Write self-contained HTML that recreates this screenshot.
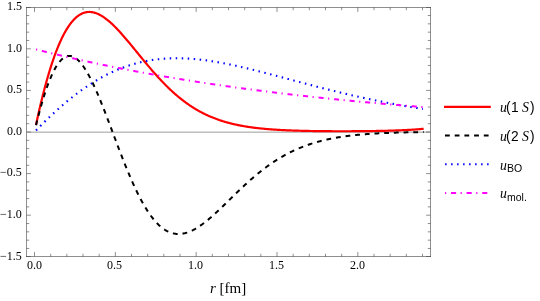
<!DOCTYPE html>
<html><head><meta charset="utf-8"><style>
html,body{margin:0;padding:0;background:#fff;}
#c{position:relative;width:540px;height:301px;overflow:hidden;background:#fff;}
#c svg{position:absolute;left:0;top:0;display:block;}
#c span{will-change:transform;position:absolute;white-space:nowrap;color:#000;display:block;}
</style></head><body>
<div id="c">
<svg width="540" height="301" viewBox="0 0 540 301">
<g stroke-linecap="square"><path d="M26.5,7.5 H430.5" stroke="#444" stroke-opacity="0.6" stroke-width="1" fill="none"/><path d="M26.5,256.5 H430.5" stroke="#444" stroke-opacity="0.6" stroke-width="1" fill="none"/><path d="M26.5,7.5 V256.5" stroke="#444" stroke-opacity="0.6" stroke-width="1" fill="none"/><path d="M430.5,7.5 V256.5" stroke="#444" stroke-opacity="0.6" stroke-width="1" fill="none"/></g>
<line x1="26.5" y1="132.15" x2="430.5" y2="132.15" stroke="#9c9c9c" stroke-width="1"/>
<path d="M34.50,256.5 v-4.4 M34.50,7.5 v4.4 M50.67,256.5 v-2.7 M50.67,7.5 v2.7 M66.83,256.5 v-2.7 M66.83,7.5 v2.7 M83.00,256.5 v-2.7 M83.00,7.5 v2.7 M99.17,256.5 v-2.7 M99.17,7.5 v2.7 M115.33,256.5 v-4.4 M115.33,7.5 v4.4 M131.50,256.5 v-2.7 M131.50,7.5 v2.7 M147.67,256.5 v-2.7 M147.67,7.5 v2.7 M163.84,256.5 v-2.7 M163.84,7.5 v2.7 M180.00,256.5 v-2.7 M180.00,7.5 v2.7 M196.17,256.5 v-4.4 M196.17,7.5 v4.4 M212.34,256.5 v-2.7 M212.34,7.5 v2.7 M228.50,256.5 v-2.7 M228.50,7.5 v2.7 M244.67,256.5 v-2.7 M244.67,7.5 v2.7 M260.84,256.5 v-2.7 M260.84,7.5 v2.7 M277.00,256.5 v-4.4 M277.00,7.5 v4.4 M293.17,256.5 v-2.7 M293.17,7.5 v2.7 M309.34,256.5 v-2.7 M309.34,7.5 v2.7 M325.51,256.5 v-2.7 M325.51,7.5 v2.7 M341.67,256.5 v-2.7 M341.67,7.5 v2.7 M357.84,256.5 v-4.4 M357.84,7.5 v4.4 M374.01,256.5 v-2.7 M374.01,7.5 v2.7 M390.17,256.5 v-2.7 M390.17,7.5 v2.7 M406.34,256.5 v-2.7 M406.34,7.5 v2.7 M422.51,256.5 v-2.7 M422.51,7.5 v2.7 M26.5,256.50 h4.4 M430.5,256.50 h-4.4 M26.5,248.48 h2.7 M430.5,248.48 h-2.7 M26.5,240.16 h2.7 M430.5,240.16 h-2.7 M26.5,231.84 h2.7 M430.5,231.84 h-2.7 M26.5,223.52 h2.7 M430.5,223.52 h-2.7 M26.5,215.20 h4.4 M430.5,215.20 h-4.4 M26.5,206.88 h2.7 M430.5,206.88 h-2.7 M26.5,198.56 h2.7 M430.5,198.56 h-2.7 M26.5,190.24 h2.7 M430.5,190.24 h-2.7 M26.5,181.92 h2.7 M430.5,181.92 h-2.7 M26.5,173.60 h4.4 M430.5,173.60 h-4.4 M26.5,165.28 h2.7 M430.5,165.28 h-2.7 M26.5,156.96 h2.7 M430.5,156.96 h-2.7 M26.5,148.64 h2.7 M430.5,148.64 h-2.7 M26.5,140.32 h2.7 M430.5,140.32 h-2.7 M26.5,132.00 h4.4 M430.5,132.00 h-4.4 M26.5,123.68 h2.7 M430.5,123.68 h-2.7 M26.5,115.36 h2.7 M430.5,115.36 h-2.7 M26.5,107.04 h2.7 M430.5,107.04 h-2.7 M26.5,98.72 h2.7 M430.5,98.72 h-2.7 M26.5,90.40 h4.4 M430.5,90.40 h-4.4 M26.5,82.08 h2.7 M430.5,82.08 h-2.7 M26.5,73.76 h2.7 M430.5,73.76 h-2.7 M26.5,65.44 h2.7 M430.5,65.44 h-2.7 M26.5,57.12 h2.7 M430.5,57.12 h-2.7 M26.5,48.80 h4.4 M430.5,48.80 h-4.4 M26.5,40.48 h2.7 M430.5,40.48 h-2.7 M26.5,32.16 h2.7 M430.5,32.16 h-2.7 M26.5,23.84 h2.7 M430.5,23.84 h-2.7 M26.5,15.52 h2.7 M430.5,15.52 h-2.7 M26.5,7.50 h4.4 M430.5,7.50 h-4.4" stroke="#444" stroke-opacity="0.6" stroke-width="1" fill="none"/>
<path d="M36.04,124.69 L36.68,121.68 L37.33,118.72 L37.98,115.80 L38.62,112.93 L39.27,110.10 L39.92,107.31 L40.56,104.57 L41.21,101.87 L41.86,99.22 L42.51,96.61 L43.15,94.04 L43.80,91.52 L44.45,89.04 L45.09,86.60 L45.74,84.21 L46.39,81.86 L47.04,79.56 L47.68,77.30 L48.33,75.08 L48.98,72.90 L49.62,70.77 L50.27,68.67 L50.92,66.63 L51.56,64.62 L52.21,62.65 L52.86,60.73 L53.51,58.85 L54.15,57.01 L54.80,55.21 L55.45,53.46 L56.09,51.74 L56.74,50.06 L57.39,48.43 L58.04,46.83 L58.68,45.28 L59.33,43.76 L59.98,42.29 L60.62,40.85 L61.27,39.45 L61.92,38.10 L62.57,36.78 L63.21,35.49 L63.86,34.25 L64.51,33.04 L65.15,31.87 L65.80,30.74 L66.45,29.65 L67.09,28.59 L67.74,27.57 L68.39,26.58 L69.04,25.63 L69.68,24.71 L70.33,23.83 L70.98,22.99 L71.62,22.18 L72.27,21.40 L72.92,20.66 L73.57,19.94 L74.21,19.27 L74.86,18.62 L75.51,18.01 L76.15,17.43 L76.80,16.88 L77.45,16.36 L78.10,15.87 L78.74,15.42 L79.39,14.99 L80.04,14.59 L80.68,14.23 L81.33,13.89 L81.98,13.58 L82.62,13.30 L83.27,13.04 L83.92,12.82 L84.57,12.62 L85.21,12.45 L85.86,12.30 L86.51,12.18 L87.15,12.09 L87.80,12.02 L88.45,11.98 L89.10,11.96 L89.74,11.96 L90.39,11.99 L91.04,12.04 L91.68,12.12 L92.33,12.21 L92.98,12.33 L93.62,12.47 L94.27,12.64 L94.92,12.82 L95.57,13.02 L96.21,13.25 L96.86,13.49 L97.51,13.75 L98.15,14.04 L98.80,14.34 L99.45,14.66 L100.10,14.99 L100.74,15.35 L101.39,15.72 L102.04,16.11 L102.68,16.51 L103.33,16.93 L103.98,17.37 L104.63,17.82 L105.27,18.28 L105.92,18.77 L106.57,19.26 L107.21,19.77 L107.86,20.29 L108.51,20.83 L109.15,21.37 L109.80,21.93 L110.45,22.50 L111.10,23.09 L111.74,23.68 L112.39,24.29 L113.04,24.90 L113.68,25.53 L114.33,26.17 L114.98,26.81 L115.63,27.47 L116.27,28.13 L116.92,28.80 L117.57,29.48 L118.21,30.17 L118.86,30.87 L119.51,31.57 L120.15,32.28 L120.80,33.00 L121.45,33.72 L122.10,34.45 L122.74,35.19 L123.39,35.93 L124.04,36.67 L124.68,37.42 L125.33,38.18 L125.98,38.94 L126.63,39.70 L127.27,40.47 L127.92,41.24 L128.57,42.01 L129.21,42.79 L129.86,43.57 L130.51,44.35 L131.16,45.14 L131.80,45.92 L132.45,46.71 L133.10,47.50 L133.74,48.29 L134.39,49.09 L135.04,49.88 L135.68,50.67 L136.33,51.47 L136.98,52.26 L137.63,53.06 L138.27,53.85 L138.92,54.64 L139.57,55.44 L140.21,56.23 L140.86,57.02 L141.51,57.81 L142.16,58.60 L142.80,59.39 L143.45,60.17 L144.10,60.96 L144.74,61.74 L145.39,62.52 L146.04,63.29 L146.68,64.07 L147.33,64.84 L147.98,65.61 L148.63,66.38 L149.27,67.14 L149.92,67.90 L150.57,68.66 L151.21,69.41 L151.86,70.16 L152.51,70.91 L153.16,71.65 L153.80,72.39 L154.45,73.12 L155.10,73.85 L155.74,74.58 L156.39,75.30 L157.04,76.02 L157.69,76.73 L158.33,77.44 L158.98,78.15 L159.63,78.84 L160.27,79.54 L160.92,80.23 L161.57,80.91 L162.21,81.59 L162.86,82.27 L163.51,82.94 L164.16,83.60 L164.80,84.26 L165.45,84.91 L166.10,85.56 L166.74,86.20 L167.39,86.84 L168.04,87.47 L168.69,88.10 L169.33,88.72 L169.98,89.33 L170.63,89.94 L171.27,90.55 L171.92,91.14 L172.57,91.74 L173.21,92.32 L173.86,92.90 L174.51,93.48 L175.16,94.05 L175.80,94.61 L176.45,95.17 L177.10,95.72 L177.74,96.27 L178.39,96.81 L179.04,97.34 L179.69,97.87 L180.33,98.39 L180.98,98.91 L181.63,99.42 L182.27,99.92 L182.92,100.42 L183.57,100.92 L184.22,101.41 L184.86,101.89 L185.51,102.36 L186.16,102.84 L186.80,103.30 L187.45,103.76 L188.10,104.21 L188.74,104.66 L189.39,105.10 L190.04,105.54 L190.69,105.97 L191.33,106.40 L191.98,106.82 L192.63,107.23 L193.27,107.64 L193.92,108.05 L194.57,108.44 L195.22,108.84 L195.86,109.23 L196.51,109.61 L197.16,109.99 L197.80,110.36 L198.45,110.73 L199.10,111.09 L199.75,111.44 L200.39,111.80 L201.04,112.14 L201.69,112.48 L202.33,112.82 L202.98,113.15 L203.63,113.48 L204.27,113.80 L204.92,114.12 L205.57,114.43 L206.22,114.74 L206.86,115.04 L207.51,115.34 L208.16,115.64 L208.80,115.93 L209.45,116.21 L210.10,116.49 L210.75,116.77 L211.39,117.04 L212.04,117.31 L212.69,117.57 L213.33,117.83 L213.98,118.09 L214.63,118.34 L215.27,118.59 L215.92,118.83 L216.57,119.07 L217.22,119.31 L217.86,119.54 L218.51,119.77 L219.16,119.99 L219.80,120.21 L220.45,120.43 L221.10,120.64 L221.75,120.85 L222.39,121.06 L223.04,121.26 L223.69,121.46 L224.33,121.65 L224.98,121.85 L225.63,122.03 L226.28,122.22 L226.92,122.40 L227.57,122.58 L228.22,122.76 L228.86,122.93 L229.51,123.10 L230.16,123.27 L230.80,123.43 L231.45,123.59 L232.10,123.75 L232.75,123.91 L233.39,124.06 L234.04,124.21 L234.69,124.36 L235.33,124.50 L235.98,124.64 L236.63,124.78 L237.28,124.92 L237.92,125.06 L238.57,125.19 L239.22,125.32 L239.86,125.44 L240.51,125.57 L241.16,125.69 L241.80,125.81 L242.45,125.93 L243.10,126.04 L243.75,126.16 L244.39,126.27 L245.04,126.38 L245.69,126.49 L246.33,126.59 L246.98,126.69 L247.63,126.79 L248.28,126.89 L248.92,126.99 L249.57,127.09 L250.22,127.18 L250.86,127.27 L251.51,127.36 L252.16,127.45 L252.81,127.54 L253.45,127.62 L254.10,127.70 L254.75,127.79 L255.39,127.87 L256.04,127.94 L256.69,128.02 L257.33,128.10 L257.98,128.17 L258.63,128.24 L259.28,128.31 L259.92,128.38 L260.57,128.45 L261.22,128.52 L261.86,128.58 L262.51,128.65 L263.16,128.71 L263.81,128.77 L264.45,128.83 L265.10,128.89 L265.75,128.95 L266.39,129.00 L267.04,129.06 L267.69,129.11 L268.33,129.17 L268.98,129.22 L269.63,129.27 L270.28,129.32 L270.92,129.37 L271.57,129.42 L272.22,129.46 L272.86,129.51 L273.51,129.55 L274.16,129.60 L274.81,129.64 L275.45,129.68 L276.10,129.72 L276.75,129.76 L277.39,129.80 L278.04,129.84 L278.69,129.88 L279.34,129.92 L279.98,129.95 L280.63,129.99 L281.28,130.02 L281.92,130.06 L282.57,130.09 L283.22,130.12 L283.86,130.16 L284.51,130.19 L285.16,130.22 L285.81,130.25 L286.45,130.28 L287.10,130.30 L287.75,130.33 L288.39,130.36 L289.04,130.39 L289.69,130.41 L290.34,130.44 L290.98,130.46 L291.63,130.49 L292.28,130.51 L292.92,130.53 L293.57,130.56 L294.22,130.58 L294.86,130.60 L295.51,130.62 L296.16,130.64 L296.81,130.66 L297.45,130.68 L298.10,130.70 L298.75,130.72 L299.39,130.74 L300.04,130.76 L300.69,130.77 L301.34,130.79 L301.98,130.81 L302.63,130.82 L303.28,130.84 L303.92,130.85 L304.57,130.87 L305.22,130.88 L305.87,130.90 L306.51,130.91 L307.16,130.93 L307.81,130.94 L308.45,130.95 L309.10,130.96 L309.75,130.98 L310.39,130.99 L311.04,131.00 L311.69,131.01 L312.34,131.02 L312.98,131.03 L313.63,131.04 L314.28,131.05 L314.92,131.06 L315.57,131.07 L316.22,131.08 L316.87,131.09 L317.51,131.10 L318.16,131.11 L318.81,131.11 L319.45,131.12 L320.10,131.13 L320.75,131.14 L321.40,131.14 L322.04,131.15 L322.69,131.16 L323.34,131.16 L323.98,131.17 L324.63,131.17 L325.28,131.18 L325.92,131.19 L326.57,131.19 L327.22,131.19 L327.87,131.20 L328.51,131.20 L329.16,131.21 L329.81,131.21 L330.45,131.22 L331.10,131.22 L331.75,131.22 L332.40,131.23 L333.04,131.23 L333.69,131.23 L334.34,131.23 L334.98,131.24 L335.63,131.24 L336.28,131.24 L336.92,131.24 L337.57,131.24 L338.22,131.24 L338.87,131.24 L339.51,131.25 L340.16,131.25 L340.81,131.25 L341.45,131.25 L342.10,131.25 L342.75,131.25 L343.40,131.25 L344.04,131.25 L344.69,131.24 L345.34,131.24 L345.98,131.24 L346.63,131.24 L347.28,131.24 L347.93,131.24 L348.57,131.24 L349.22,131.23 L349.87,131.23 L350.51,131.23 L351.16,131.23 L351.81,131.22 L352.45,131.22 L353.10,131.22 L353.75,131.21 L354.40,131.21 L355.04,131.21 L355.69,131.20 L356.34,131.20 L356.98,131.20 L357.63,131.19 L358.28,131.19 L358.93,131.18 L359.57,131.18 L360.22,131.17 L360.87,131.16 L361.51,131.16 L362.16,131.15 L362.81,131.15 L363.45,131.14 L364.10,131.13 L364.75,131.13 L365.40,131.12 L366.04,131.11 L366.69,131.11 L367.34,131.10 L367.98,131.09 L368.63,131.08 L369.28,131.07 L369.93,131.06 L370.57,131.06 L371.22,131.05 L371.87,131.04 L372.51,131.03 L373.16,131.02 L373.81,131.01 L374.46,131.00 L375.10,130.99 L375.75,130.98 L376.40,130.96 L377.04,130.95 L377.69,130.94 L378.34,130.93 L378.98,130.92 L379.63,130.90 L380.28,130.89 L380.93,130.88 L381.57,130.86 L382.22,130.85 L382.87,130.84 L383.51,130.82 L384.16,130.81 L384.81,130.79 L385.46,130.78 L386.10,130.76 L386.75,130.74 L387.40,130.73 L388.04,130.71 L388.69,130.69 L389.34,130.67 L389.98,130.66 L390.63,130.64 L391.28,130.62 L391.93,130.60 L392.57,130.58 L393.22,130.56 L393.87,130.54 L394.51,130.52 L395.16,130.49 L395.81,130.47 L396.46,130.45 L397.10,130.42 L397.75,130.40 L398.40,130.38 L399.04,130.35 L399.69,130.33 L400.34,130.30 L400.99,130.27 L401.63,130.24 L402.28,130.22 L402.93,130.19 L403.57,130.16 L404.22,130.13 L404.87,130.10 L405.51,130.07 L406.16,130.03 L406.81,130.00 L407.46,129.97 L408.10,129.93 L408.75,129.90 L409.40,129.86 L410.04,129.82 L410.69,129.78 L411.34,129.74 L411.99,129.70 L412.63,129.66 L413.28,129.62 L413.93,129.57 L414.57,129.53 L415.22,129.48 L415.87,129.44 L416.51,129.39 L417.16,129.34 L417.81,129.29 L418.46,129.23 L419.10,129.18 L419.75,129.12 L420.40,129.07 L421.04,129.01 L421.69,128.95 L422.34,128.88 L422.99,128.82 L423.63,128.75" fill="none" stroke="#f00" stroke-width="2.2"/>
<path d="M36.04,125.18 L36.68,122.56 L37.33,119.97 L37.98,117.44 L38.62,114.95 L39.27,112.50 L39.92,110.11 L40.56,107.76 L41.21,105.46 L41.86,103.20 L42.51,101.00 L43.15,98.85 L43.80,96.75 L44.45,94.69 L45.09,92.69 L45.74,90.74 L46.39,88.84 L47.04,87.00 L47.68,85.20 L48.33,83.46 L48.98,81.77 L49.62,80.14 L50.27,78.55 L50.92,77.02 L51.56,75.55 L52.21,74.13 L52.86,72.76 L53.51,71.45 L54.15,70.19 L54.80,68.98 L55.45,67.83 L56.09,66.73 L56.74,65.69 L57.39,64.70 L58.04,63.77 L58.68,62.89 L59.33,62.06 L59.98,61.28 L60.62,60.56 L61.27,59.90 L61.92,59.28 L62.57,58.72 L63.21,58.21 L63.86,57.76 L64.51,57.35 L65.15,57.00 L65.80,56.70 L66.45,56.45 L67.09,56.25 L67.74,56.10 L68.39,56.00 L69.04,55.95 L69.68,55.95 L70.33,55.99 L70.98,56.09 L71.62,56.23 L72.27,56.42 L72.92,56.66 L73.57,56.94 L74.21,57.27 L74.86,57.64 L75.51,58.06 L76.15,58.52 L76.80,59.02 L77.45,59.57 L78.10,60.15 L78.74,60.78 L79.39,61.45 L80.04,62.16 L80.68,62.91 L81.33,63.70 L81.98,64.52 L82.62,65.38 L83.27,66.28 L83.92,67.21 L84.57,68.18 L85.21,69.19 L85.86,70.22 L86.51,71.29 L87.15,72.39 L87.80,73.52 L88.45,74.68 L89.10,75.87 L89.74,77.09 L90.39,78.34 L91.04,79.62 L91.68,80.92 L92.33,82.24 L92.98,83.59 L93.62,84.97 L94.27,86.37 L94.92,87.79 L95.57,89.23 L96.21,90.69 L96.86,92.17 L97.51,93.67 L98.15,95.19 L98.80,96.73 L99.45,98.28 L100.10,99.85 L100.74,101.44 L101.39,103.03 L102.04,104.65 L102.68,106.27 L103.33,107.91 L103.98,109.55 L104.63,111.21 L105.27,112.88 L105.92,114.55 L106.57,116.24 L107.21,117.93 L107.86,119.62 L108.51,121.32 L109.15,123.03 L109.80,124.74 L110.45,126.46 L111.10,128.17 L111.74,129.89 L112.39,131.61 L113.04,133.34 L113.68,135.06 L114.33,136.78 L114.98,138.50 L115.63,140.21 L116.27,141.93 L116.92,143.64 L117.57,145.34 L118.21,147.04 L118.86,148.74 L119.51,150.43 L120.15,152.11 L120.80,153.79 L121.45,155.46 L122.10,157.12 L122.74,158.77 L123.39,160.41 L124.04,162.04 L124.68,163.67 L125.33,165.28 L125.98,166.87 L126.63,168.46 L127.27,170.04 L127.92,171.60 L128.57,173.15 L129.21,174.68 L129.86,176.20 L130.51,177.71 L131.16,179.20 L131.80,180.67 L132.45,182.13 L133.10,183.58 L133.74,185.00 L134.39,186.41 L135.04,187.81 L135.68,189.18 L136.33,190.54 L136.98,191.88 L137.63,193.20 L138.27,194.50 L138.92,195.78 L139.57,197.05 L140.21,198.29 L140.86,199.51 L141.51,200.72 L142.16,201.90 L142.80,203.06 L143.45,204.21 L144.10,205.33 L144.74,206.43 L145.39,207.51 L146.04,208.57 L146.68,209.60 L147.33,210.62 L147.98,211.61 L148.63,212.59 L149.27,213.54 L149.92,214.47 L150.57,215.37 L151.21,216.26 L151.86,217.12 L152.51,217.96 L153.16,218.78 L153.80,219.57 L154.45,220.35 L155.10,221.10 L155.74,221.83 L156.39,222.54 L157.04,223.22 L157.69,223.89 L158.33,224.53 L158.98,225.15 L159.63,225.74 L160.27,226.32 L160.92,226.87 L161.57,227.40 L162.21,227.91 L162.86,228.40 L163.51,228.87 L164.16,229.31 L164.80,229.74 L165.45,230.14 L166.10,230.52 L166.74,230.88 L167.39,231.22 L168.04,231.54 L168.69,231.84 L169.33,232.12 L169.98,232.38 L170.63,232.62 L171.27,232.83 L171.92,233.03 L172.57,233.21 L173.21,233.37 L173.86,233.51 L174.51,233.64 L175.16,233.74 L175.80,233.83 L176.45,233.89 L177.10,233.94 L177.74,233.97 L178.39,233.99 L179.04,233.98 L179.69,233.96 L180.33,233.92 L180.98,233.87 L181.63,233.80 L182.27,233.71 L182.92,233.60 L183.57,233.48 L184.22,233.35 L184.86,233.20 L185.51,233.03 L186.16,232.85 L186.80,232.66 L187.45,232.45 L188.10,232.22 L188.74,231.99 L189.39,231.74 L190.04,231.47 L190.69,231.19 L191.33,230.90 L191.98,230.60 L192.63,230.29 L193.27,229.96 L193.92,229.62 L194.57,229.27 L195.22,228.91 L195.86,228.53 L196.51,228.15 L197.16,227.75 L197.80,227.35 L198.45,226.93 L199.10,226.51 L199.75,226.08 L200.39,225.63 L201.04,225.18 L201.69,224.72 L202.33,224.25 L202.98,223.77 L203.63,223.28 L204.27,222.79 L204.92,222.29 L205.57,221.78 L206.22,221.26 L206.86,220.74 L207.51,220.21 L208.16,219.67 L208.80,219.13 L209.45,218.58 L210.10,218.03 L210.75,217.47 L211.39,216.90 L212.04,216.33 L212.69,215.76 L213.33,215.18 L213.98,214.59 L214.63,214.00 L215.27,213.41 L215.92,212.82 L216.57,212.22 L217.22,211.61 L217.86,211.01 L218.51,210.40 L219.16,209.78 L219.80,209.17 L220.45,208.55 L221.10,207.93 L221.75,207.31 L222.39,206.69 L223.04,206.06 L223.69,205.43 L224.33,204.81 L224.98,204.18 L225.63,203.55 L226.28,202.91 L226.92,202.28 L227.57,201.65 L228.22,201.02 L228.86,200.38 L229.51,199.75 L230.16,199.11 L230.80,198.48 L231.45,197.85 L232.10,197.22 L232.75,196.58 L233.39,195.95 L234.04,195.32 L234.69,194.69 L235.33,194.06 L235.98,193.44 L236.63,192.81 L237.28,192.19 L237.92,191.56 L238.57,190.94 L239.22,190.32 L239.86,189.71 L240.51,189.09 L241.16,188.48 L241.80,187.87 L242.45,187.26 L243.10,186.65 L243.75,186.05 L244.39,185.45 L245.04,184.85 L245.69,184.25 L246.33,183.66 L246.98,183.07 L247.63,182.48 L248.28,181.90 L248.92,181.31 L249.57,180.74 L250.22,180.16 L250.86,179.59 L251.51,179.02 L252.16,178.46 L252.81,177.90 L253.45,177.34 L254.10,176.78 L254.75,176.23 L255.39,175.69 L256.04,175.14 L256.69,174.60 L257.33,174.07 L257.98,173.54 L258.63,173.01 L259.28,172.48 L259.92,171.96 L260.57,171.45 L261.22,170.94 L261.86,170.43 L262.51,169.92 L263.16,169.42 L263.81,168.93 L264.45,168.44 L265.10,167.95 L265.75,167.47 L266.39,166.99 L267.04,166.51 L267.69,166.04 L268.33,165.57 L268.98,165.11 L269.63,164.65 L270.28,164.20 L270.92,163.75 L271.57,163.31 L272.22,162.87 L272.86,162.43 L273.51,162.00 L274.16,161.57 L274.81,161.15 L275.45,160.73 L276.10,160.31 L276.75,159.90 L277.39,159.49 L278.04,159.09 L278.69,158.69 L279.34,158.30 L279.98,157.91 L280.63,157.52 L281.28,157.14 L281.92,156.77 L282.57,156.39 L283.22,156.03 L283.86,155.66 L284.51,155.30 L285.16,154.94 L285.81,154.59 L286.45,154.24 L287.10,153.90 L287.75,153.56 L288.39,153.23 L289.04,152.89 L289.69,152.57 L290.34,152.24 L290.98,151.92 L291.63,151.61 L292.28,151.29 L292.92,150.99 L293.57,150.68 L294.22,150.38 L294.86,150.09 L295.51,149.79 L296.16,149.50 L296.81,149.22 L297.45,148.94 L298.10,148.66 L298.75,148.38 L299.39,148.11 L300.04,147.85 L300.69,147.58 L301.34,147.32 L301.98,147.07 L302.63,146.81 L303.28,146.56 L303.92,146.32 L304.57,146.07 L305.22,145.83 L305.87,145.60 L306.51,145.37 L307.16,145.14 L307.81,144.91 L308.45,144.69 L309.10,144.47 L309.75,144.25 L310.39,144.04 L311.04,143.83 L311.69,143.62 L312.34,143.41 L312.98,143.21 L313.63,143.01 L314.28,142.82 L314.92,142.63 L315.57,142.44 L316.22,142.25 L316.87,142.06 L317.51,141.88 L318.16,141.70 L318.81,141.53 L319.45,141.35 L320.10,141.18 L320.75,141.02 L321.40,140.85 L322.04,140.69 L322.69,140.53 L323.34,140.37 L323.98,140.21 L324.63,140.06 L325.28,139.91 L325.92,139.76 L326.57,139.62 L327.22,139.47 L327.87,139.33 L328.51,139.19 L329.16,139.06 L329.81,138.92 L330.45,138.79 L331.10,138.66 L331.75,138.53 L332.40,138.41 L333.04,138.28 L333.69,138.16 L334.34,138.04 L334.98,137.92 L335.63,137.81 L336.28,137.69 L336.92,137.58 L337.57,137.47 L338.22,137.36 L338.87,137.26 L339.51,137.15 L340.16,137.05 L340.81,136.95 L341.45,136.85 L342.10,136.75 L342.75,136.65 L343.40,136.56 L344.04,136.47 L344.69,136.38 L345.34,136.29 L345.98,136.20 L346.63,136.11 L347.28,136.03 L347.93,135.94 L348.57,135.86 L349.22,135.78 L349.87,135.70 L350.51,135.63 L351.16,135.55 L351.81,135.47 L352.45,135.40 L353.10,135.33 L353.75,135.26 L354.40,135.19 L355.04,135.12 L355.69,135.05 L356.34,134.99 L356.98,134.92 L357.63,134.86 L358.28,134.80 L358.93,134.73 L359.57,134.67 L360.22,134.62 L360.87,134.56 L361.51,134.50 L362.16,134.44 L362.81,134.39 L363.45,134.34 L364.10,134.28 L364.75,134.23 L365.40,134.18 L366.04,134.13 L366.69,134.08 L367.34,134.03 L367.98,133.99 L368.63,133.94 L369.28,133.90 L369.93,133.85 L370.57,133.81 L371.22,133.77 L371.87,133.72 L372.51,133.68 L373.16,133.64 L373.81,133.60 L374.46,133.56 L375.10,133.53 L375.75,133.49 L376.40,133.45 L377.04,133.42 L377.69,133.38 L378.34,133.35 L378.98,133.31 L379.63,133.28 L380.28,133.25 L380.93,133.22 L381.57,133.18 L382.22,133.15 L382.87,133.12 L383.51,133.10 L384.16,133.07 L384.81,133.04 L385.46,133.01 L386.10,132.98 L386.75,132.96 L387.40,132.93 L388.04,132.91 L388.69,132.88 L389.34,132.86 L389.98,132.83 L390.63,132.81 L391.28,132.79 L391.93,132.76 L392.57,132.74 L393.22,132.72 L393.87,132.70 L394.51,132.68 L395.16,132.66 L395.81,132.64 L396.46,132.62 L397.10,132.60 L397.75,132.58 L398.40,132.56 L399.04,132.54 L399.69,132.53 L400.34,132.51 L400.99,132.49 L401.63,132.48 L402.28,132.46 L402.93,132.44 L403.57,132.43 L404.22,132.41 L404.87,132.40 L405.51,132.38 L406.16,132.37 L406.81,132.36 L407.46,132.34 L408.10,132.33 L408.75,132.32 L409.40,132.30 L410.04,132.29 L410.69,132.28 L411.34,132.27 L411.99,132.25 L412.63,132.24 L413.28,132.23 L413.93,132.22 L414.57,132.21 L415.22,132.20 L415.87,132.19 L416.51,132.18 L417.16,132.17 L417.81,132.16 L418.46,132.15 L419.10,132.14 L419.75,132.13 L420.40,132.12 L421.04,132.12 L421.69,132.11 L422.34,132.10 L422.99,132.09 L423.63,132.08" fill="none" stroke="#000" stroke-width="2" stroke-dasharray="4.8 4.9"/>
<path d="M36.04,130.42 L36.68,129.76 L37.33,129.10 L37.97,128.44 L38.62,127.79 L39.26,127.13 L39.91,126.48 L40.56,125.84 L41.20,125.19 L41.85,124.54 L42.49,123.90 L43.14,123.26 L43.78,122.63 L44.43,121.99 L45.08,121.36 L45.72,120.73 L46.37,120.10 L47.01,119.47 L47.66,118.85 L48.31,118.23 L48.95,117.61 L49.60,117.00 L50.24,116.38 L50.89,115.77 L51.53,115.17 L52.18,114.56 L52.83,113.96 L53.47,113.36 L54.12,112.76 L54.76,112.17 L55.41,111.58 L56.05,110.99 L56.70,110.40 L57.35,109.82 L57.99,109.24 L58.64,108.66 L59.28,108.09 L59.93,107.51 L60.57,106.95 L61.22,106.38 L61.87,105.82 L62.51,105.26 L63.16,104.70 L63.80,104.15 L64.45,103.60 L65.10,103.05 L65.74,102.50 L66.39,101.96 L67.03,101.42 L67.68,100.89 L68.32,100.36 L68.97,99.83 L69.62,99.30 L70.26,98.78 L70.91,98.26 L71.55,97.74 L72.20,97.23 L72.84,96.72 L73.49,96.21 L74.14,95.71 L74.78,95.21 L75.43,94.71 L76.07,94.22 L76.72,93.73 L77.37,93.24 L78.01,92.76 L78.66,92.28 L79.30,91.80 L79.95,91.33 L80.59,90.86 L81.24,90.39 L81.89,89.93 L82.53,89.47 L83.18,89.01 L83.82,88.56 L84.47,88.11 L85.11,87.66 L85.76,87.22 L86.41,86.78 L87.05,86.34 L87.70,85.91 L88.34,85.48 L88.99,85.05 L89.63,84.63 L90.28,84.21 L90.93,83.80 L91.57,83.38 L92.22,82.98 L92.86,82.57 L93.51,82.17 L94.16,81.77 L94.80,81.38 L95.45,80.99 L96.09,80.60 L96.74,80.22 L97.38,79.84 L98.03,79.46 L98.68,79.09 L99.32,78.72 L99.97,78.35 L100.61,77.99 L101.26,77.63 L101.90,77.27 L102.55,76.92 L103.20,76.57 L103.84,76.23 L104.49,75.88 L105.13,75.55 L105.78,75.21 L106.43,74.88 L107.07,74.55 L107.72,74.23 L108.36,73.91 L109.01,73.59 L109.65,73.28 L110.30,72.97 L110.95,72.66 L111.59,72.36 L112.24,72.06 L112.88,71.76 L113.53,71.47 L114.17,71.18 L114.82,70.90 L115.47,70.61 L116.11,70.34 L116.76,70.06 L117.40,69.79 L118.05,69.52 L118.69,69.26 L119.34,68.99 L119.99,68.74 L120.63,68.48 L121.28,68.23 L121.92,67.98 L122.57,67.74 L123.22,67.50 L123.86,67.26 L124.51,67.02 L125.15,66.79 L125.80,66.57 L126.44,66.34 L127.09,66.12 L127.74,65.90 L128.38,65.69 L129.03,65.48 L129.67,65.27 L130.32,65.07 L130.96,64.87 L131.61,64.67 L132.26,64.47 L132.90,64.28 L133.55,64.09 L134.19,63.91 L134.84,63.73 L135.49,63.55 L136.13,63.37 L136.78,63.20 L137.42,63.03 L138.07,62.87 L138.71,62.71 L139.36,62.55 L140.01,62.39 L140.65,62.24 L141.30,62.09 L141.94,61.94 L142.59,61.80 L143.23,61.66 L143.88,61.52 L144.53,61.38 L145.17,61.25 L145.82,61.12 L146.46,61.00 L147.11,60.88 L147.76,60.76 L148.40,60.64 L149.05,60.53 L149.69,60.42 L150.34,60.31 L150.98,60.20 L151.63,60.10 L152.28,60.00 L152.92,59.91 L153.57,59.81 L154.21,59.72 L154.86,59.64 L155.50,59.55 L156.15,59.47 L156.80,59.39 L157.44,59.31 L158.09,59.24 L158.73,59.17 L159.38,59.10 L160.02,59.04 L160.67,58.97 L161.32,58.91 L161.96,58.85 L162.61,58.80 L163.25,58.75 L163.90,58.70 L164.55,58.65 L165.19,58.61 L165.84,58.57 L166.48,58.53 L167.13,58.49 L167.77,58.46 L168.42,58.42 L169.07,58.39 L169.71,58.37 L170.36,58.34 L171.00,58.32 L171.65,58.30 L172.29,58.29 L172.94,58.27 L173.59,58.26 L174.23,58.25 L174.88,58.24 L175.52,58.24 L176.17,58.23 L176.82,58.23 L177.46,58.24 L178.11,58.24 L178.75,58.25 L179.40,58.25 L180.04,58.26 L180.69,58.28 L181.34,58.29 L181.98,58.31 L182.63,58.33 L183.27,58.35 L183.92,58.38 L184.56,58.40 L185.21,58.43 L185.86,58.46 L186.50,58.49 L187.15,58.52 L187.79,58.56 L188.44,58.60 L189.08,58.64 L189.73,58.68 L190.38,58.73 L191.02,58.77 L191.67,58.82 L192.31,58.87 L192.96,58.92 L193.61,58.97 L194.25,59.03 L194.90,59.09 L195.54,59.15 L196.19,59.21 L196.83,59.27 L197.48,59.33 L198.13,59.40 L198.77,59.47 L199.42,59.54 L200.06,59.61 L200.71,59.68 L201.35,59.76 L202.00,59.83 L202.65,59.91 L203.29,59.99 L203.94,60.07 L204.58,60.15 L205.23,60.24 L205.88,60.32 L206.52,60.41 L207.17,60.50 L207.81,60.59 L208.46,60.68 L209.10,60.78 L209.75,60.87 L210.40,60.97 L211.04,61.07 L211.69,61.17 L212.33,61.27 L212.98,61.37 L213.62,61.47 L214.27,61.58 L214.92,61.68 L215.56,61.79 L216.21,61.90 L216.85,62.01 L217.50,62.12 L218.15,62.23 L218.79,62.35 L219.44,62.46 L220.08,62.58 L220.73,62.69 L221.37,62.81 L222.02,62.93 L222.67,63.05 L223.31,63.18 L223.96,63.30 L224.60,63.42 L225.25,63.55 L225.89,63.68 L226.54,63.80 L227.19,63.93 L227.83,64.06 L228.48,64.19 L229.12,64.33 L229.77,64.46 L230.41,64.59 L231.06,64.73 L231.71,64.86 L232.35,65.00 L233.00,65.14 L233.64,65.27 L234.29,65.41 L234.94,65.55 L235.58,65.70 L236.23,65.84 L236.87,65.98 L237.52,66.12 L238.16,66.27 L238.81,66.41 L239.46,66.56 L240.10,66.71 L240.75,66.85 L241.39,67.00 L242.04,67.15 L242.68,67.30 L243.33,67.45 L243.98,67.60 L244.62,67.76 L245.27,67.91 L245.91,68.06 L246.56,68.22 L247.21,68.37 L247.85,68.53 L248.50,68.68 L249.14,68.84 L249.79,69.00 L250.43,69.15 L251.08,69.31 L251.73,69.47 L252.37,69.63 L253.02,69.79 L253.66,69.95 L254.31,70.11 L254.95,70.27 L255.60,70.43 L256.25,70.60 L256.89,70.76 L257.54,70.92 L258.18,71.09 L258.83,71.25 L259.47,71.42 L260.12,71.58 L260.77,71.75 L261.41,71.91 L262.06,72.08 L262.70,72.24 L263.35,72.41 L264.00,72.58 L264.64,72.75 L265.29,72.91 L265.93,73.08 L266.58,73.25 L267.22,73.42 L267.87,73.59 L268.52,73.76 L269.16,73.93 L269.81,74.10 L270.45,74.27 L271.10,74.44 L271.74,74.61 L272.39,74.78 L273.04,74.95 L273.68,75.12 L274.33,75.29 L274.97,75.47 L275.62,75.64 L276.27,75.81 L276.91,75.98 L277.56,76.15 L278.20,76.33 L278.85,76.50 L279.49,76.67 L280.14,76.85 L280.79,77.02 L281.43,77.19 L282.08,77.36 L282.72,77.54 L283.37,77.71 L284.01,77.88 L284.66,78.06 L285.31,78.23 L285.95,78.41 L286.60,78.58 L287.24,78.75 L287.89,78.93 L288.53,79.10 L289.18,79.27 L289.83,79.45 L290.47,79.62 L291.12,79.79 L291.76,79.97 L292.41,80.14 L293.06,80.32 L293.70,80.49 L294.35,80.66 L294.99,80.84 L295.64,81.01 L296.28,81.18 L296.93,81.36 L297.58,81.53 L298.22,81.70 L298.87,81.87 L299.51,82.05 L300.16,82.22 L300.80,82.39 L301.45,82.56 L302.10,82.74 L302.74,82.91 L303.39,83.08 L304.03,83.25 L304.68,83.42 L305.33,83.60 L305.97,83.77 L306.62,83.94 L307.26,84.11 L307.91,84.28 L308.55,84.45 L309.20,84.62 L309.85,84.79 L310.49,84.96 L311.14,85.13 L311.78,85.30 L312.43,85.47 L313.07,85.64 L313.72,85.81 L314.37,85.98 L315.01,86.15 L315.66,86.32 L316.30,86.48 L316.95,86.65 L317.60,86.82 L318.24,86.99 L318.89,87.15 L319.53,87.32 L320.18,87.49 L320.82,87.65 L321.47,87.82 L322.12,87.99 L322.76,88.15 L323.41,88.32 L324.05,88.48 L324.70,88.65 L325.34,88.81 L325.99,88.97 L326.64,89.14 L327.28,89.30 L327.93,89.46 L328.57,89.63 L329.22,89.79 L329.86,89.95 L330.51,90.11 L331.16,90.27 L331.80,90.44 L332.45,90.60 L333.09,90.76 L333.74,90.92 L334.39,91.08 L335.03,91.24 L335.68,91.40 L336.32,91.55 L336.97,91.71 L337.61,91.87 L338.26,92.03 L338.91,92.18 L339.55,92.34 L340.20,92.50 L340.84,92.65 L341.49,92.81 L342.13,92.97 L342.78,93.12 L343.43,93.27 L344.07,93.43 L344.72,93.58 L345.36,93.74 L346.01,93.89 L346.66,94.04 L347.30,94.19 L347.95,94.35 L348.59,94.50 L349.24,94.65 L349.88,94.80 L350.53,94.95 L351.18,95.10 L351.82,95.25 L352.47,95.40 L353.11,95.54 L353.76,95.69 L354.40,95.84 L355.05,95.99 L355.70,96.13 L356.34,96.28 L356.99,96.43 L357.63,96.57 L358.28,96.72 L358.92,96.86 L359.57,97.01 L360.22,97.15 L360.86,97.29 L361.51,97.44 L362.15,97.58 L362.80,97.72 L363.45,97.86 L364.09,98.00 L364.74,98.14 L365.38,98.29 L366.03,98.43 L366.67,98.56 L367.32,98.70 L367.97,98.84 L368.61,98.98 L369.26,99.12 L369.90,99.26 L370.55,99.39 L371.19,99.53 L371.84,99.66 L372.49,99.80 L373.13,99.93 L373.78,100.07 L374.42,100.20 L375.07,100.34 L375.72,100.47 L376.36,100.60 L377.01,100.73 L377.65,100.87 L378.30,101.00 L378.94,101.13 L379.59,101.26 L380.24,101.39 L380.88,101.52 L381.53,101.65 L382.17,101.78 L382.82,101.90 L383.46,102.03 L384.11,102.16 L384.76,102.29 L385.40,102.41 L386.05,102.54 L386.69,102.66 L387.34,102.79 L387.99,102.91 L388.63,103.04 L389.28,103.16 L389.92,103.28 L390.57,103.41 L391.21,103.53 L391.86,103.65 L392.51,103.77 L393.15,103.89 L393.80,104.01 L394.44,104.13 L395.09,104.25 L395.73,104.37 L396.38,104.49 L397.03,104.61 L397.67,104.72 L398.32,104.84 L398.96,104.96 L399.61,105.07 L400.25,105.19 L400.90,105.31 L401.55,105.42 L402.19,105.53 L402.84,105.65 L403.48,105.76 L404.13,105.88 L404.78,105.99 L405.42,106.10 L406.07,106.21 L406.71,106.32 L407.36,106.43 L408.00,106.54 L408.65,106.65 L409.30,106.76 L409.94,106.87 L410.59,106.98 L411.23,107.09 L411.88,107.20 L412.52,107.30 L413.17,107.41 L413.82,107.52 L414.46,107.62 L415.11,107.73 L415.75,107.83 L416.40,107.94 L417.05,108.04 L417.69,108.15 L418.34,108.25 L418.98,108.35 L419.63,108.45 L420.27,108.56 L420.92,108.66 L421.57,108.76 L422.21,108.86 L422.86,108.96" fill="none" stroke="#0000ff" stroke-width="2.1" stroke-dasharray="1.5 4.5"/>
<path d="M36.04,49.39 L36.68,49.56 L37.33,49.72 L37.98,49.89 L38.62,50.05 L39.27,50.22 L39.92,50.38 L40.56,50.54 L41.21,50.71 L41.86,50.87 L42.51,51.03 L43.15,51.19 L43.80,51.35 L44.45,51.52 L45.09,51.68 L45.74,51.84 L46.39,52.00 L47.04,52.16 L47.68,52.32 L48.33,52.48 L48.98,52.64 L49.62,52.79 L50.27,52.95 L50.92,53.11 L51.56,53.27 L52.21,53.43 L52.86,53.58 L53.51,53.74 L54.15,53.90 L54.80,54.05 L55.45,54.21 L56.09,54.36 L56.74,54.52 L57.39,54.67 L58.04,54.83 L58.68,54.98 L59.33,55.14 L59.98,55.29 L60.62,55.44 L61.27,55.60 L61.92,55.75 L62.57,55.90 L63.21,56.06 L63.86,56.21 L64.51,56.36 L65.15,56.51 L65.80,56.66 L66.45,56.81 L67.09,56.96 L67.74,57.11 L68.39,57.26 L69.04,57.41 L69.68,57.56 L70.33,57.71 L70.98,57.86 L71.62,58.01 L72.27,58.15 L72.92,58.30 L73.57,58.45 L74.21,58.60 L74.86,58.74 L75.51,58.89 L76.15,59.04 L76.80,59.18 L77.45,59.33 L78.10,59.47 L78.74,59.62 L79.39,59.76 L80.04,59.91 L80.68,60.05 L81.33,60.20 L81.98,60.34 L82.62,60.48 L83.27,60.63 L83.92,60.77 L84.57,60.91 L85.21,61.05 L85.86,61.19 L86.51,61.34 L87.15,61.48 L87.80,61.62 L88.45,61.76 L89.10,61.90 L89.74,62.04 L90.39,62.18 L91.04,62.32 L91.68,62.46 L92.33,62.60 L92.98,62.74 L93.62,62.88 L94.27,63.01 L94.92,63.15 L95.57,63.29 L96.21,63.43 L96.86,63.56 L97.51,63.70 L98.15,63.84 L98.80,63.97 L99.45,64.11 L100.10,64.25 L100.74,64.38 L101.39,64.52 L102.04,64.65 L102.68,64.79 L103.33,64.92 L103.98,65.05 L104.63,65.19 L105.27,65.32 L105.92,65.46 L106.57,65.59 L107.21,65.72 L107.86,65.85 L108.51,65.99 L109.15,66.12 L109.80,66.25 L110.45,66.38 L111.10,66.51 L111.74,66.64 L112.39,66.77 L113.04,66.91 L113.68,67.04 L114.33,67.17 L114.98,67.30 L115.63,67.42 L116.27,67.55 L116.92,67.68 L117.57,67.81 L118.21,67.94 L118.86,68.07 L119.51,68.20 L120.15,68.32 L120.80,68.45 L121.45,68.58 L122.10,68.70 L122.74,68.83 L123.39,68.96 L124.04,69.08 L124.68,69.21 L125.33,69.34 L125.98,69.46 L126.63,69.59 L127.27,69.71 L127.92,69.83 L128.57,69.96 L129.21,70.08 L129.86,70.21 L130.51,70.33 L131.16,70.45 L131.80,70.58 L132.45,70.70 L133.10,70.82 L133.74,70.94 L134.39,71.07 L135.04,71.19 L135.68,71.31 L136.33,71.43 L136.98,71.55 L137.63,71.67 L138.27,71.79 L138.92,71.92 L139.57,72.04 L140.21,72.16 L140.86,72.27 L141.51,72.39 L142.16,72.51 L142.80,72.63 L143.45,72.75 L144.10,72.87 L144.74,72.99 L145.39,73.11 L146.04,73.22 L146.68,73.34 L147.33,73.46 L147.98,73.58 L148.63,73.69 L149.27,73.81 L149.92,73.93 L150.57,74.04 L151.21,74.16 L151.86,74.27 L152.51,74.39 L153.16,74.50 L153.80,74.62 L154.45,74.73 L155.10,74.85 L155.74,74.96 L156.39,75.08 L157.04,75.19 L157.69,75.30 L158.33,75.42 L158.98,75.53 L159.63,75.64 L160.27,75.76 L160.92,75.87 L161.57,75.98 L162.21,76.09 L162.86,76.21 L163.51,76.32 L164.16,76.43 L164.80,76.54 L165.45,76.65 L166.10,76.76 L166.74,76.87 L167.39,76.98 L168.04,77.09 L168.69,77.20 L169.33,77.31 L169.98,77.42 L170.63,77.53 L171.27,77.64 L171.92,77.75 L172.57,77.86 L173.21,77.96 L173.86,78.07 L174.51,78.18 L175.16,78.29 L175.80,78.40 L176.45,78.50 L177.10,78.61 L177.74,78.72 L178.39,78.82 L179.04,78.93 L179.69,79.04 L180.33,79.14 L180.98,79.25 L181.63,79.35 L182.27,79.46 L182.92,79.56 L183.57,79.67 L184.22,79.77 L184.86,79.88 L185.51,79.98 L186.16,80.09 L186.80,80.19 L187.45,80.29 L188.10,80.40 L188.74,80.50 L189.39,80.60 L190.04,80.70 L190.69,80.81 L191.33,80.91 L191.98,81.01 L192.63,81.11 L193.27,81.22 L193.92,81.32 L194.57,81.42 L195.22,81.52 L195.86,81.62 L196.51,81.72 L197.16,81.82 L197.80,81.92 L198.45,82.02 L199.10,82.12 L199.75,82.22 L200.39,82.32 L201.04,82.42 L201.69,82.52 L202.33,82.62 L202.98,82.72 L203.63,82.82 L204.27,82.92 L204.92,83.01 L205.57,83.11 L206.22,83.21 L206.86,83.31 L207.51,83.40 L208.16,83.50 L208.80,83.60 L209.45,83.70 L210.10,83.79 L210.75,83.89 L211.39,83.98 L212.04,84.08 L212.69,84.18 L213.33,84.27 L213.98,84.37 L214.63,84.46 L215.27,84.56 L215.92,84.65 L216.57,84.75 L217.22,84.84 L217.86,84.94 L218.51,85.03 L219.16,85.12 L219.80,85.22 L220.45,85.31 L221.10,85.40 L221.75,85.50 L222.39,85.59 L223.04,85.68 L223.69,85.78 L224.33,85.87 L224.98,85.96 L225.63,86.05 L226.28,86.15 L226.92,86.24 L227.57,86.33 L228.22,86.42 L228.86,86.51 L229.51,86.60 L230.16,86.69 L230.80,86.78 L231.45,86.87 L232.10,86.96 L232.75,87.05 L233.39,87.14 L234.04,87.23 L234.69,87.32 L235.33,87.41 L235.98,87.50 L236.63,87.59 L237.28,87.68 L237.92,87.77 L238.57,87.86 L239.22,87.95 L239.86,88.03 L240.51,88.12 L241.16,88.21 L241.80,88.30 L242.45,88.38 L243.10,88.47 L243.75,88.56 L244.39,88.65 L245.04,88.73 L245.69,88.82 L246.33,88.90 L246.98,88.99 L247.63,89.08 L248.28,89.16 L248.92,89.25 L249.57,89.33 L250.22,89.42 L250.86,89.50 L251.51,89.59 L252.16,89.67 L252.81,89.76 L253.45,89.84 L254.10,89.93 L254.75,90.01 L255.39,90.10 L256.04,90.18 L256.69,90.26 L257.33,90.35 L257.98,90.43 L258.63,90.51 L259.28,90.60 L259.92,90.68 L260.57,90.76 L261.22,90.84 L261.86,90.93 L262.51,91.01 L263.16,91.09 L263.81,91.17 L264.45,91.25 L265.10,91.34 L265.75,91.42 L266.39,91.50 L267.04,91.58 L267.69,91.66 L268.33,91.74 L268.98,91.82 L269.63,91.90 L270.28,91.98 L270.92,92.06 L271.57,92.14 L272.22,92.22 L272.86,92.30 L273.51,92.38 L274.16,92.46 L274.81,92.54 L275.45,92.62 L276.10,92.70 L276.75,92.77 L277.39,92.85 L278.04,92.93 L278.69,93.01 L279.34,93.09 L279.98,93.17 L280.63,93.24 L281.28,93.32 L281.92,93.40 L282.57,93.48 L283.22,93.55 L283.86,93.63 L284.51,93.71 L285.16,93.78 L285.81,93.86 L286.45,93.94 L287.10,94.01 L287.75,94.09 L288.39,94.16 L289.04,94.24 L289.69,94.31 L290.34,94.39 L290.98,94.47 L291.63,94.54 L292.28,94.62 L292.92,94.69 L293.57,94.76 L294.22,94.84 L294.86,94.91 L295.51,94.99 L296.16,95.06 L296.81,95.14 L297.45,95.21 L298.10,95.28 L298.75,95.36 L299.39,95.43 L300.04,95.50 L300.69,95.58 L301.34,95.65 L301.98,95.72 L302.63,95.79 L303.28,95.87 L303.92,95.94 L304.57,96.01 L305.22,96.08 L305.87,96.15 L306.51,96.23 L307.16,96.30 L307.81,96.37 L308.45,96.44 L309.10,96.51 L309.75,96.58 L310.39,96.65 L311.04,96.72 L311.69,96.79 L312.34,96.86 L312.98,96.94 L313.63,97.01 L314.28,97.08 L314.92,97.15 L315.57,97.21 L316.22,97.28 L316.87,97.35 L317.51,97.42 L318.16,97.49 L318.81,97.56 L319.45,97.63 L320.10,97.70 L320.75,97.77 L321.40,97.84 L322.04,97.90 L322.69,97.97 L323.34,98.04 L323.98,98.11 L324.63,98.18 L325.28,98.24 L325.92,98.31 L326.57,98.38 L327.22,98.45 L327.87,98.51 L328.51,98.58 L329.16,98.65 L329.81,98.71 L330.45,98.78 L331.10,98.85 L331.75,98.91 L332.40,98.98 L333.04,99.05 L333.69,99.11 L334.34,99.18 L334.98,99.24 L335.63,99.31 L336.28,99.37 L336.92,99.44 L337.57,99.50 L338.22,99.57 L338.87,99.63 L339.51,99.70 L340.16,99.76 L340.81,99.83 L341.45,99.89 L342.10,99.96 L342.75,100.02 L343.40,100.08 L344.04,100.15 L344.69,100.21 L345.34,100.28 L345.98,100.34 L346.63,100.40 L347.28,100.47 L347.93,100.53 L348.57,100.59 L349.22,100.65 L349.87,100.72 L350.51,100.78 L351.16,100.84 L351.81,100.90 L352.45,100.97 L353.10,101.03 L353.75,101.09 L354.40,101.15 L355.04,101.21 L355.69,101.28 L356.34,101.34 L356.98,101.40 L357.63,101.46 L358.28,101.52 L358.93,101.58 L359.57,101.64 L360.22,101.70 L360.87,101.76 L361.51,101.82 L362.16,101.88 L362.81,101.94 L363.45,102.00 L364.10,102.06 L364.75,102.12 L365.40,102.18 L366.04,102.24 L366.69,102.30 L367.34,102.36 L367.98,102.42 L368.63,102.48 L369.28,102.54 L369.93,102.60 L370.57,102.66 L371.22,102.72 L371.87,102.78 L372.51,102.83 L373.16,102.89 L373.81,102.95 L374.46,103.01 L375.10,103.07 L375.75,103.12 L376.40,103.18 L377.04,103.24 L377.69,103.30 L378.34,103.35 L378.98,103.41 L379.63,103.47 L380.28,103.53 L380.93,103.58 L381.57,103.64 L382.22,103.70 L382.87,103.75 L383.51,103.81 L384.16,103.87 L384.81,103.92 L385.46,103.98 L386.10,104.03 L386.75,104.09 L387.40,104.15 L388.04,104.20 L388.69,104.26 L389.34,104.31 L389.98,104.37 L390.63,104.42 L391.28,104.48 L391.93,104.53 L392.57,104.59 L393.22,104.64 L393.87,104.70 L394.51,104.75 L395.16,104.81 L395.81,104.86 L396.46,104.92 L397.10,104.97 L397.75,105.02 L398.40,105.08 L399.04,105.13 L399.69,105.19 L400.34,105.24 L400.99,105.29 L401.63,105.35 L402.28,105.40 L402.93,105.45 L403.57,105.51 L404.22,105.56 L404.87,105.61 L405.51,105.66 L406.16,105.72 L406.81,105.77 L407.46,105.82 L408.10,105.88 L408.75,105.93 L409.40,105.98 L410.04,106.03 L410.69,106.08 L411.34,106.14 L411.99,106.19 L412.63,106.24 L413.28,106.29 L413.93,106.34 L414.57,106.39 L415.22,106.44 L415.87,106.50 L416.51,106.55 L417.16,106.60 L417.81,106.65 L418.46,106.70 L419.10,106.75 L419.75,106.80 L420.40,106.85 L421.04,106.90 L421.69,106.95 L422.34,107.00 L422.99,107.05 L423.63,107.10" fill="none" stroke="#ff00ff" stroke-width="2" stroke-dasharray="1.2 4.8 5.1 4.5"/>
<line x1="444" y1="106.9" x2="490.8" y2="106.9" stroke="#f00" stroke-width="2.2"/>
<line x1="445" y1="135.5" x2="490.8" y2="135.5" stroke="#000" stroke-width="2" stroke-dasharray="4.8 4.9"/>
<line x1="445.1" y1="164.2" x2="490.8" y2="164.2" stroke="#00f" stroke-width="2.1" stroke-dasharray="1.5 4.5"/>
<line x1="445" y1="193.0" x2="490.8" y2="193.0" stroke="#f0f" stroke-width="2" stroke-dasharray="1.2 4.8 5.1 4.5"/>
</svg>
<div class="yticks"><span style="left:7px;top:0px;font-size:12px;line-height:13.284px;font-family:'Liberation Serif';font-style:normal;">1.5</span><span style="left:7px;top:42px;font-size:12px;line-height:13.284px;font-family:'Liberation Serif';font-style:normal;">1.0</span><span style="left:7px;top:83px;font-size:12px;line-height:13.284px;font-family:'Liberation Serif';font-style:normal;">0.5</span><span style="left:7px;top:125px;font-size:12px;line-height:13.284px;font-family:'Liberation Serif';font-style:normal;">0.0</span><span style="left:0px;top:166px;font-size:12px;line-height:13.284px;font-family:'Liberation Serif';font-style:normal;">−0.5</span><span style="left:0px;top:208px;font-size:12px;line-height:13.284px;font-family:'Liberation Serif';font-style:normal;">−1.0</span><span style="left:0px;top:250px;font-size:12px;line-height:13.284px;font-family:'Liberation Serif';font-style:normal;">−1.5</span></div>
<div class="xticks"><span style="left:27px;top:259px;font-size:12px;line-height:13.284px;font-family:'Liberation Serif';font-style:normal;">0.0</span><span style="left:107px;top:259px;font-size:12px;line-height:13.284px;font-family:'Liberation Serif';font-style:normal;">0.5</span><span style="left:188px;top:259px;font-size:12px;line-height:13.284px;font-family:'Liberation Serif';font-style:normal;">1.0</span><span style="left:269px;top:259px;font-size:12px;line-height:13.284px;font-family:'Liberation Serif';font-style:normal;">1.5</span><span style="left:350px;top:259px;font-size:12px;line-height:13.284px;font-family:'Liberation Serif';font-style:normal;">2.0</span></div>
<div class="xlabel"><span style="left:210px;top:280px;font-size:15px;line-height:16.605px;font-family:'Liberation Serif';font-style:normal;"><i>r</i> [fm]</span></div>
<div class="legend">
<div class="item"><span style="left:500px;top:100px;font-size:13.75px;line-height:15.221px;font-family:'Liberation Serif';font-style:italic;">u</span><span style="left:506px;top:100px;font-size:13.75px;line-height:15.359px;font-family:'Liberation Sans';font-style:normal;">(</span><span style="left:511px;top:100px;font-size:13.75px;line-height:15.359px;font-family:'Liberation Sans';font-style:normal;">1</span><span style="left:522px;top:100px;font-size:13.75px;line-height:15.221px;font-family:'Liberation Serif';font-style:italic;">S</span><span style="left:530px;top:100px;font-size:13.75px;line-height:15.359px;font-family:'Liberation Sans';font-style:normal;">)</span></div>
<div class="item"><span style="left:500px;top:129px;font-size:13.75px;line-height:15.221px;font-family:'Liberation Serif';font-style:italic;">u</span><span style="left:506px;top:129px;font-size:13.75px;line-height:15.359px;font-family:'Liberation Sans';font-style:normal;">(</span><span style="left:511px;top:129px;font-size:13.75px;line-height:15.359px;font-family:'Liberation Sans';font-style:normal;">2</span><span style="left:522px;top:129px;font-size:13.75px;line-height:15.221px;font-family:'Liberation Serif';font-style:italic;">S</span><span style="left:530px;top:129px;font-size:13.75px;line-height:15.359px;font-family:'Liberation Sans';font-style:normal;">)</span></div>
<div class="item"><span style="left:500px;top:158px;font-size:13.75px;line-height:15.221px;font-family:'Liberation Serif';font-style:italic;">u</span><span style="left:507px;top:163px;font-size:10.5px;line-height:11.729px;font-family:'Liberation Sans';font-style:normal;">BO</span></div>
<div class="item"><span style="left:500px;top:186px;font-size:13.75px;line-height:15.221px;font-family:'Liberation Serif';font-style:italic;">u</span><span style="left:507px;top:192px;font-size:10.5px;line-height:11.729px;font-family:'Liberation Sans';font-style:normal;">mol.</span></div>
</div>
</div>
</body></html>
